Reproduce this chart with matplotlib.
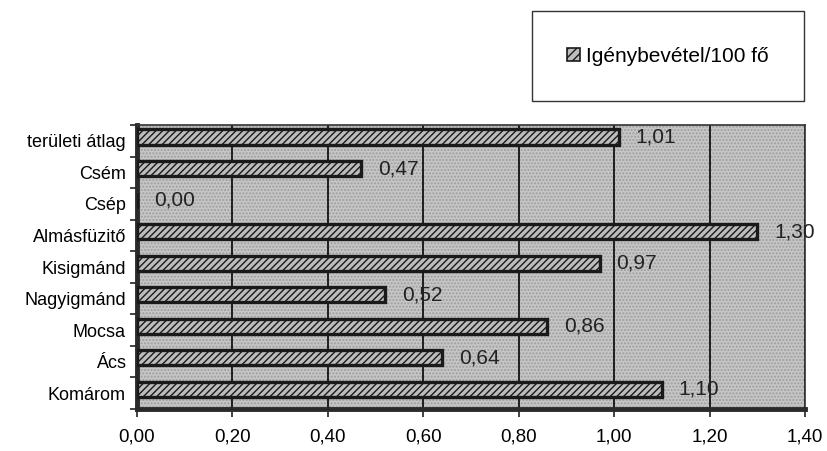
import numpy as np
import matplotlib.pyplot as plt
from matplotlib.patches import Patch
from matplotlib.ticker import FuncFormatter, MultipleLocator

plt.rcParams['font.family'] = ['Liberation Sans', 'DejaVu Sans']
plt.rcParams['hatch.color'] = '#6f6f6f'

# data (bottom to top)
towns = ['Komárom', 'Ács', 'Mocsa', 'Nagyigmánd', 'Kisigmánd',
         'Almásfüzitő', 'Csép', 'Csém', 'területi átlag']
values = [1.10, 0.64, 0.86, 0.52, 0.97, 1.30, 0.00, 0.47, 1.01]
series_name = 'Igénybevétel/100 fő'

fig = plt.figure(figsize=(8.27, 4.51), dpi=100)
ax = fig.add_axes([137 / 827, 42 / 451, 668 / 827, 284 / 451])

ax.set_facecolor('#c6c6c6')
ax.patch.set_hatch('.....')
ax.patch.set_edgecolor('#9d9d9d')

y = np.arange(len(towns))
bars = ax.barh(y + 0.12, values, height=0.48, color='#bdbdbd',
               edgecolor='#1a1a1a', linewidth=2.4, hatch='/////', zorder=3)

for yi, v in zip(y, values):
    ax.annotate(f'{v:.2f}'.replace('.', ','), (v, yi + 0.12),
                xytext=(12, 0), textcoords='offset points',
                ha='left', va='center', fontsize=15, color='#222222', zorder=4)

ax.set_xlim(0, 1.4)
ax.set_ylim(-0.5, len(towns) - 0.5)
ax.xaxis.set_major_locator(MultipleLocator(0.2))
ax.xaxis.set_major_formatter(FuncFormatter(lambda v, p: f'{v:.2f}'.replace('.', ',')))
ax.grid(axis='x', color='#1e1e1e', linewidth=1.4, zorder=1)
ax.set_axisbelow(True)

ax.set_yticks(y)
ax.set_yticklabels(towns)
ax.set_yticks(np.arange(-0.5, len(towns)), minor=True)
ax.tick_params(axis='y', which='major', length=0, labelsize=13, pad=8)
ax.tick_params(axis='y', which='minor', length=5, width=1.2, color='#222222')
ax.tick_params(axis='x', length=6, width=1.2, color='#222222', labelsize=13.5, pad=8)

for side in ['left', 'bottom']:
    ax.spines[side].set_linewidth(3.5)
    ax.spines[side].set_color('#2a2a2a')
for side in ['top', 'right']:
    ax.spines[side].set_linewidth(1.2)
    ax.spines[side].set_color('#333333')

handle = Patch(facecolor='#bdbdbd', edgecolor='#1a1a1a', hatch='////', linewidth=1.2)
fig.legend([handle], [series_name], loc='center',
           bbox_to_anchor=(668 / 827, 1 - 56 / 451),
           fontsize=15, borderpad=1.7, handlelength=0.6, handleheight=0.6,
           handletextpad=0.3, fancybox=False, edgecolor='#333333', framealpha=1)

fig.savefig('out.png', dpi=100)
